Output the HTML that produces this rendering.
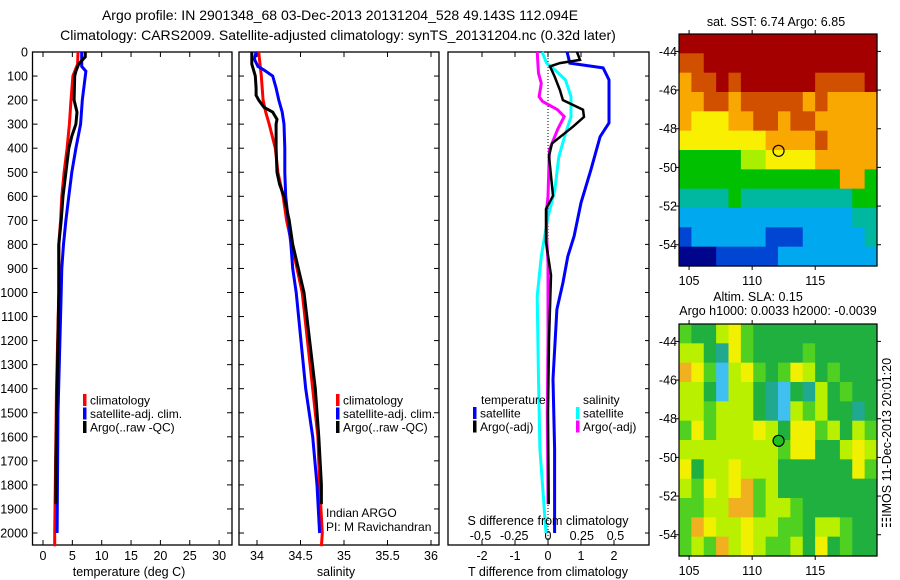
<!DOCTYPE html>
<html><head><meta charset="utf-8"><style>
html,body{margin:0;padding:0;background:#fff;}
svg{display:block;font-family:"Liberation Sans",sans-serif;}
text{font-size:12.5px;fill:#000;}
.ttl{font-size:14px;}
.leg{font-size:12px;}
</style></head><body>
<svg id="c" width="900" height="580" viewBox="0 0 900 580" xmlns="http://www.w3.org/2000/svg">
<text class="ttl" x="340" y="20" text-anchor="middle">Argo profile: IN 2901348_68 03-Dec-2013 20131204_528 49.143S 112.094E</text>
<text class="ttl" x="338" y="40" text-anchor="middle">Climatology: CARS2009. Satellite-adjusted climatology: synTS_20131204.nc (0.32d later)</text>
<g id="g"></g>
</svg>
<script>
// ---- data ----
const depthTicks=[0,100,200,300,400,500,600,700,800,900,1000,1100,1200,1300,1400,1500,1600,1700,1800,1900,2000];
const tempTicks=[0,5,10,15,20,25,30];
const salTicks=[34,34.5,35,35.5,36];
const tdTicks=[-2,-1,0,1,2];
const sdTicks=[-0.5,-0.25,0,0.25,0.5];
const latTicks=[-44,-46,-48,-50,-52,-54];
const lonTicks=[105,110,115];

const tClimD=[0,50,100,200,300,400,500,600,700,800,1000,1400,2000,2055];
const tClimV=[5.96,5.9,5.1,4.77,4.5,4.1,3.6,3.2,3.0,2.7,2.7,2.3,2.0,2.0];
const tSatD=[0,60,80,100,200,300,400,500,600,700,800,900,1000,1500,2000];
const tSatV=[6.6,6.6,7.3,7.2,6.7,6.4,5.6,4.9,4.4,3.9,3.5,3.2,3.1,2.55,2.4];
const tArgD=[0,20,50,80,100,200,250,300,350,400,500,600,700,800,1000,1400,1700,1880];
const tArgV=[7.2,7.2,6.1,5.6,5.4,5.3,5.8,5.6,4.9,4.4,3.9,3.4,3.1,2.7,2.7,2.4,2.2,2.2];

const sClimD=[0,100,200,250,300,400,500,600,700,800,1000,1400,1600,1800,2000,2055];
const sClimV=[34.02,34.05,34.07,34.1,34.14,34.21,34.24,34.3,34.34,34.4,34.52,34.64,34.7,34.72,34.75,34.74];
const sSatD=[0,30,60,75,100,150,200,250,300,400,500,600,700,800,900,1000,1400,1600,1800,2000];
const sSatV=[33.99,33.97,34.01,34.08,34.18,34.22,34.25,34.29,34.31,34.32,34.32,34.33,34.36,34.39,34.41,34.45,34.56,34.64,34.69,34.72];
const sArgD=[0,50,100,150,180,200,230,250,280,300,400,500,550,600,700,800,1000,1400,1600,1800,1880];
const sArgV=[33.94,33.94,33.98,33.99,33.99,34.02,34.08,34.18,34.23,34.22,34.22,34.23,34.26,34.31,34.37,34.41,34.54,34.67,34.71,34.74,34.74];

const dTsatD=[0,46,66,116,295,352,490,627,766,850,960,1070,1360,1650,2000];
const dTsatV=[0.58,0.66,1.67,1.85,1.85,1.58,1.3,1.0,0.79,0.6,0.45,0.27,0.15,0.2,0.2];
const dTargD=[0,33,46,60,102,158,200,240,270,310,380,433,515,598,653,790,928,1200,1500,1880];
const dTargV=[0.88,0.97,0.36,0.06,0.2,0.36,0.45,1.06,1.09,0.76,0.12,0.03,0.09,0.15,-0.06,-0.06,0.09,0.03,0.0,0.02];
const dSsatD=[0,46,74,116,186,270,339,436,574,685,850,1015,1360,1650,2000];
const dSsatV=[-0.044,-0.01,0.05,0.13,0.17,0.17,0.13,0.08,0.05,0.0,-0.05,-0.08,-0.07,-0.06,-0.015];
const dSargD=[0,88,130,186,206,240,268,323,407,600,656,767,878,1200,1500,1880];
const dSargV=[-0.08,-0.07,-0.05,-0.066,-0.04,0.07,0.12,0.07,0.01,0.0,-0.01,-0.01,0.0,0.0,-0.005,0.0];

const sstRows=[
"9999999999999999",
"8899999999999999",
"7889899999988889",
"7788788888787777",
"7666778878877777",
"6666666777787777",
"4444455666677777",
"4444444444444774",
"3333433333333344",
"2222222222222233",
"1222222111222223",
"0001111122222222"];
const slaRows=[
"3224532222222222",
"4421532222322222",
"6530453235423222",
"4420442102142322",
"4434442104342212",
"3534445425534243",
"4444444435522454",
"5244544422222253",
"4354563422222222",
"3344663443222222",
"3654454433244322",
"3436454334252322"];
const sstColors=["#00058c","#0046d2","#00a8f0","#00b8a0","#00c000","#a8f000","#f8f000","#f8a800","#d05000","#a40000"];
const slaColors=["#40c0f0","#20a890","#20b040","#50d020","#b8f000","#f0f000","#f0b020"];

// ---- drawing ----
const NS="http://www.w3.org/2000/svg";
const G=document.getElementById('g');
function el(t,a,p){const e=document.createElementNS(NS,t);for(const k in a)e.setAttribute(k,a[k]);(p||G).appendChild(e);return e;}
function txt(s,x,y,anchor,p){const e=el('text',{x:x,y:y,'text-anchor':anchor||'middle'},p);e.textContent=s;return e;}

const yTop=52,yPer=0.2405;
const yD=d=>yTop+d*yPer;
const yBot=545;

function panel(name,x0,x1){
  const g=el('g',{});
  
  
  el('rect',{x:x0,y:yTop,width:x1-x0,height:yBot-yTop,fill:'#fff',stroke:'#000','stroke-width':1.3},g);
  return g;
}
function line(g,name,D,V,fx,color,w){
  const pts=D.map((d,i)=>fx(V[i]).toFixed(1)+','+yD(d).toFixed(1)).join(' ');
  const p=el('polyline',{points:pts,fill:'none',stroke:color,'stroke-width':w||3,'stroke-linejoin':'miter'},g);
  
  
}
function depthAxis(g,x0,x1,labels){
  depthTicks.forEach(d=>{
    const y=yD(d);
    el('line',{x1:x0,y1:y,x2:x0+5,y2:y,stroke:'#000'},g);
    el('line',{x1:x1,y1:y,x2:x1-5,y2:y,stroke:'#000'},g);
    if(labels){const t=txt(String(d),28,y+4.5,'end',g);}
  });
}
function xTicks(g,ticks,fx,labY){
  ticks.forEach(v=>{
    const x=fx(v);
    el('line',{x1:x,y1:yTop,x2:x,y2:yTop+5,stroke:'#000'},g);
    el('line',{x1:x,y1:yBot,x2:x,y2:yBot-5,stroke:'#000'},g);
    if(labY){const t=txt(String(v),x,labY,'middle',g);}
  });
}
function legend(g,items,x,y0){
  items.forEach((it,i)=>{
    const y=y0+i*13.5;
    el('rect',{x:x,y:y-6,width:3.5,height:12,fill:it[1]},g);
    const t=txt(it[0],x+7,y+4.5,'start',g);
    t.setAttribute('class','leg');
    
    
  });
}

// Panel 1: temperature
const fT=v=>43+v*5.87;
const p1=panel('temperature-panel',32.5,232);
depthAxis(p1,32.5,232,true);
xTicks(p1,tempTicks,fT,560);
line(p1,'temp-climatology',tClimD,tClimV,fT,'#f00');
line(p1,'temp-satellite',tSatD,tSatV,fT,'#00f');
line(p1,'temp-argo',tArgD,tArgV,fT,'#000');
legend(p1,[['climatology','#f00'],['satellite-adj. clim.','#00f'],['Argo(..raw -QC)','#000']],83,400);
txt('temperature (deg C)',129,576,'middle',p1);

// Panel 2: salinity
const fS=v=>257+(v-34)*87;
const p2=panel('salinity-panel',239,439);
depthAxis(p2,239,439,false);
xTicks(p2,salTicks,fS,560);
line(p2,'sal-climatology',sClimD,sClimV,fS,'#f00');
line(p2,'sal-satellite',sSatD,sSatV,fS,'#00f');
line(p2,'sal-argo',sArgD,sArgV,fS,'#000');
legend(p2,[['climatology','#f00'],['satellite-adj. clim.','#00f'],['Argo(..raw -QC)','#000']],336,400);
const ia=txt('Indian ARGO',326,517,'start',p2);ia.setAttribute('class','leg');
const pi=txt('PI: M Ravichandran',326,531,'start',p2);pi.setAttribute('class','leg');
txt('salinity',336,576,'middle',p2);

// Panel 3: differences
const fdT=v=>548+v*33;
const fdS=v=>548+v*135;
const p3=panel('difference-panel',448,649);
depthTicks.forEach(d=>{const y=yD(d);el('line',{x1:649,y1:y,x2:645,y2:y,stroke:'#000'},p3);});
xTicks(p3,tdTicks,fdT,560);
sdTicks.forEach(v=>{const t=txt(String(v),fdS(v),540,'middle',p3);});
el('line',{x1:548,y1:yTop,x2:548,y2:yBot,stroke:'#000','stroke-dasharray':'1,2'},p3);
line(p3,'t-diff-satellite',dTsatD,dTsatV,fdT,'#00f');
line(p3,'s-diff-satellite',dSsatD,dSsatV,fdS,'#0ff');
line(p3,'s-diff-argo',dSargD,dSargV,fdS,'#f0f');
line(p3,'t-diff-argo',dTargD,dTargV,fdT,'#000',2.5);
txt('temperature',481,404,'start',p3).setAttribute('class','leg');
legend(p3,[['satellite','#00f'],['Argo(-adj)','#000']],473,413);
txt('salinity',583,404,'start',p3).setAttribute('class','leg');
legend(p3,[['satellite','#0ff'],['Argo(-adj)','#f0f']],576,413);
txt('S difference from climatology',548,525,'middle',p3);
txt('T difference from climatology',548,576,'middle',p3);

// Maps
const lonMin=104.2,lonMax=119.9,latTop=-43.1,latBot=-55.1;
function map(name,rows,colors,x0,x1,y0,y1,filled){
  const g=el('g',{});
  
  
  const fx=lon=>x0+(lon-lonMin)/(lonMax-lonMin)*(x1-x0);
  const fy=lat=>y0+(latTop-lat)/(latTop-latBot)*(y1-y0);
  const nr=rows.length,nc=rows[0].length;
  const cw=(x1-x0)/nc,ch=(y1-y0)/nr;
  rows.forEach((r,i)=>{for(let j=0;j<nc;j++){
    const c=el('rect',{x:(x0+j*cw).toFixed(2),y:(y0+i*ch).toFixed(2),width:(cw+0.6).toFixed(2),height:(ch+0.6).toFixed(2),fill:colors[+r[j]]},g);
    
    
  }});
  el('rect',{x:x0,y:y0,width:x1-x0,height:y1-y0,fill:'none',stroke:'#000','stroke-width':1.2},g);
  latTicks.forEach(l=>{const y=fy(l);el('line',{x1:x0-4,y1:y,x2:x0,y2:y,stroke:'#000'},g);el('line',{x1:x1,y1:y,x2:x1+4,y2:y,stroke:'#000'},g);txt(String(l),677,y+4.5,'end',g);});
  lonTicks.forEach(l=>{const x=fx(l);el('line',{x1:x,y1:y0-4,x2:x,y2:y0,stroke:'#000'},g);el('line',{x1:x,y1:y1,x2:x,y2:y1+4,stroke:'#000'},g);txt(String(l),x,y1+19,'middle',g);});
  const m=el('circle',{cx:fx(112.094),cy:fy(-49.143),r:5.5,fill:filled?'#20c020':'none',stroke:'#000','stroke-width':1.2},g);
  
  
}
map('sst-map',sstRows,sstColors,679,877,34,266,false);
map('sla-map',slaRows,slaColors,679,877,324,556,true);
txt('sat. SST: 6.74  Argo: 6.85',776,26,'middle');
txt('Altim. SLA: 0.15',758,301,'middle');
txt('Argo h1000: 0.0033 h2000: -0.0039',778,315,'middle');
const r=txt('\u2637IMOS 11-Dec-2013 20:01:20',0,0,'middle');
r.setAttribute('transform','translate(891,443) rotate(-90)');

</script>
</body></html>
